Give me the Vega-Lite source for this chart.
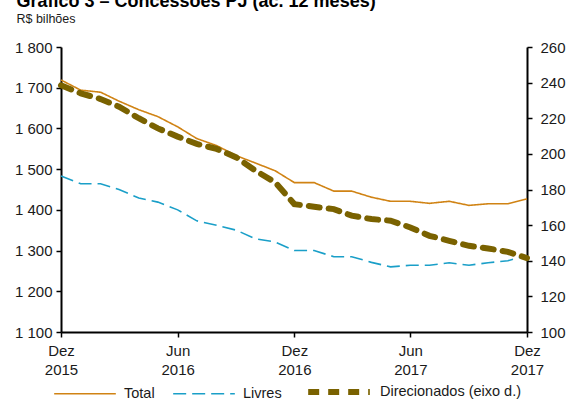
{
  "$schema": "https://vega.github.io/schema/vega-lite/v6.json",
  "width": 466,
  "height": 285,
  "autosize": {"type": "none"},
  "padding": {"left": 61, "top": 47, "right": 44, "bottom": 69},
  "background": "white",
  "config": {
    "font": "Liberation Sans",
    "view": {"stroke": null},
    "axis": {
      "grid": false,
      "domainColor": "#000000",
      "domainWidth": 2,
      "tickColor": "#000000",
      "tickWidth": 1.5,
      "tickSize": 5,
      "labelColor": "#1a1a1a",
      "labelFont": "Liberation Sans",
      "labelFontSize": 15,
      "title": null
    },
    "legend": {
      "title": null,
      "orient": "none",
      "legendX": -8,
      "legendY": 311,
      "direction": "horizontal",
      "symbolType": "stroke",
      "symbolSize": 3800,
      "labelFontSize": 14.5,
      "labelColor": "#1a1a1a",
      "labelFont": "Liberation Sans",
      "labelOffset": 7,
      "labelBaseline": "middle",
      "columnPadding": 14
    }
  },
  "title": {
    "text": "Gráfico 3 – Concessões PJ (ac. 12 meses)",
    "subtitle": "R$ bilhões",
    "anchor": "start",
    "frame": "bounds",
    "font": "Liberation Sans",
    "fontSize": 18,
    "fontWeight": "bold",
    "color": "#000000",
    "subtitleFont": "Liberation Sans",
    "subtitleFontSize": 12.5,
    "subtitleColor": "#1a1a1a",
    "subtitlePadding": 2,
    "offset": 15,
    "dx": 2
  },
  "data": {
    "values": [
      {"date": "2015-12-01T00:00:00", "serie": "Total", "v": 1719},
      {"date": "2016-01-01T00:00:00", "serie": "Total", "v": 1694},
      {"date": "2016-02-01T00:00:00", "serie": "Total", "v": 1689},
      {"date": "2016-03-01T00:00:00", "serie": "Total", "v": 1667},
      {"date": "2016-04-01T00:00:00", "serie": "Total", "v": 1646},
      {"date": "2016-05-01T00:00:00", "serie": "Total", "v": 1629},
      {"date": "2016-06-01T00:00:00", "serie": "Total", "v": 1604},
      {"date": "2016-07-01T00:00:00", "serie": "Total", "v": 1575},
      {"date": "2016-08-01T00:00:00", "serie": "Total", "v": 1558},
      {"date": "2016-09-01T00:00:00", "serie": "Total", "v": 1533},
      {"date": "2016-10-01T00:00:00", "serie": "Total", "v": 1515},
      {"date": "2016-11-01T00:00:00", "serie": "Total", "v": 1496},
      {"date": "2016-12-01T00:00:00", "serie": "Total", "v": 1467},
      {"date": "2017-01-01T00:00:00", "serie": "Total", "v": 1467},
      {"date": "2017-02-01T00:00:00", "serie": "Total", "v": 1446},
      {"date": "2017-03-01T00:00:00", "serie": "Total", "v": 1446},
      {"date": "2017-04-01T00:00:00", "serie": "Total", "v": 1431},
      {"date": "2017-05-01T00:00:00", "serie": "Total", "v": 1421},
      {"date": "2017-06-01T00:00:00", "serie": "Total", "v": 1421},
      {"date": "2017-07-01T00:00:00", "serie": "Total", "v": 1416},
      {"date": "2017-08-01T00:00:00", "serie": "Total", "v": 1421},
      {"date": "2017-09-01T00:00:00", "serie": "Total", "v": 1411},
      {"date": "2017-10-01T00:00:00", "serie": "Total", "v": 1415},
      {"date": "2017-11-01T00:00:00", "serie": "Total", "v": 1415},
      {"date": "2017-12-01T00:00:00", "serie": "Total", "v": 1427},
      {"date": "2015-12-01T00:00:00", "serie": "Livres", "v": 1483},
      {"date": "2016-01-01T00:00:00", "serie": "Livres", "v": 1464},
      {"date": "2016-02-01T00:00:00", "serie": "Livres", "v": 1464},
      {"date": "2016-03-01T00:00:00", "serie": "Livres", "v": 1450},
      {"date": "2016-04-01T00:00:00", "serie": "Livres", "v": 1429},
      {"date": "2016-05-01T00:00:00", "serie": "Livres", "v": 1419},
      {"date": "2016-06-01T00:00:00", "serie": "Livres", "v": 1400},
      {"date": "2016-07-01T00:00:00", "serie": "Livres", "v": 1373},
      {"date": "2016-08-01T00:00:00", "serie": "Livres", "v": 1362},
      {"date": "2016-09-01T00:00:00", "serie": "Livres", "v": 1350},
      {"date": "2016-10-01T00:00:00", "serie": "Livres", "v": 1329},
      {"date": "2016-11-01T00:00:00", "serie": "Livres", "v": 1321},
      {"date": "2016-12-01T00:00:00", "serie": "Livres", "v": 1300},
      {"date": "2017-01-01T00:00:00", "serie": "Livres", "v": 1300},
      {"date": "2017-02-01T00:00:00", "serie": "Livres", "v": 1285},
      {"date": "2017-03-01T00:00:00", "serie": "Livres", "v": 1285},
      {"date": "2017-04-01T00:00:00", "serie": "Livres", "v": 1271},
      {"date": "2017-05-01T00:00:00", "serie": "Livres", "v": 1260},
      {"date": "2017-06-01T00:00:00", "serie": "Livres", "v": 1264},
      {"date": "2017-07-01T00:00:00", "serie": "Livres", "v": 1264},
      {"date": "2017-08-01T00:00:00", "serie": "Livres", "v": 1270},
      {"date": "2017-09-01T00:00:00", "serie": "Livres", "v": 1264},
      {"date": "2017-10-01T00:00:00", "serie": "Livres", "v": 1270},
      {"date": "2017-11-01T00:00:00", "serie": "Livres", "v": 1275},
      {"date": "2017-12-01T00:00:00", "serie": "Livres", "v": 1288},
      {"date": "2015-12-01T00:00:00", "serie": "Direcionados (eixo d.)", "v": 238.5},
      {"date": "2016-01-01T00:00:00", "serie": "Direcionados (eixo d.)", "v": 234},
      {"date": "2016-02-01T00:00:00", "serie": "Direcionados (eixo d.)", "v": 230.8},
      {"date": "2016-03-01T00:00:00", "serie": "Direcionados (eixo d.)", "v": 226.5},
      {"date": "2016-04-01T00:00:00", "serie": "Direcionados (eixo d.)", "v": 220},
      {"date": "2016-05-01T00:00:00", "serie": "Direcionados (eixo d.)", "v": 214.3},
      {"date": "2016-06-01T00:00:00", "serie": "Direcionados (eixo d.)", "v": 209.7},
      {"date": "2016-07-01T00:00:00", "serie": "Direcionados (eixo d.)", "v": 205.6},
      {"date": "2016-08-01T00:00:00", "serie": "Direcionados (eixo d.)", "v": 202.8},
      {"date": "2016-09-01T00:00:00", "serie": "Direcionados (eixo d.)", "v": 198},
      {"date": "2016-10-01T00:00:00", "serie": "Direcionados (eixo d.)", "v": 190.6},
      {"date": "2016-11-01T00:00:00", "serie": "Direcionados (eixo d.)", "v": 184},
      {"date": "2016-12-01T00:00:00", "serie": "Direcionados (eixo d.)", "v": 171.8},
      {"date": "2017-01-01T00:00:00", "serie": "Direcionados (eixo d.)", "v": 170.3},
      {"date": "2017-02-01T00:00:00", "serie": "Direcionados (eixo d.)", "v": 169},
      {"date": "2017-03-01T00:00:00", "serie": "Direcionados (eixo d.)", "v": 165.3},
      {"date": "2017-04-01T00:00:00", "serie": "Direcionados (eixo d.)", "v": 163.4},
      {"date": "2017-05-01T00:00:00", "serie": "Direcionados (eixo d.)", "v": 162.5},
      {"date": "2017-06-01T00:00:00", "serie": "Direcionados (eixo d.)", "v": 158.7},
      {"date": "2017-07-01T00:00:00", "serie": "Direcionados (eixo d.)", "v": 154},
      {"date": "2017-08-01T00:00:00", "serie": "Direcionados (eixo d.)", "v": 151.2},
      {"date": "2017-09-01T00:00:00", "serie": "Direcionados (eixo d.)", "v": 148.4},
      {"date": "2017-10-01T00:00:00", "serie": "Direcionados (eixo d.)", "v": 146.9},
      {"date": "2017-11-01T00:00:00", "serie": "Direcionados (eixo d.)", "v": 145},
      {"date": "2017-12-01T00:00:00", "serie": "Direcionados (eixo d.)", "v": 141.5}
    ]
  },
  "encoding": {
    "x": {
      "field": "date",
      "type": "temporal",
      "scale": {"nice": false},
      "axis": {
        "values": [
          {"year": 2015, "month": 12, "date": 1},
          {"year": 2016, "month": 6, "date": 1},
          {"year": 2016, "month": 12, "date": 1},
          {"year": 2017, "month": 6, "date": 1},
          {"year": 2017, "month": 12, "date": 1}
        ],
        "labelExpr": "[month(datum.value) == 11 ? 'Dez' : 'Jun', '' + year(datum.value)]",
        "labelLineHeight": 19,
        "labelPadding": 6,
        "labelFlush": false,
        "labelOverlap": false
      }
    },
    "color": {
      "field": "serie",
      "type": "nominal",
      "scale": {
        "domain": ["Total", "Livres", "Direcionados (eixo d.)"],
        "range": ["#D08314", "#1A9FC8", "#7A6200"]
      }
    },
    "strokeDash": {
      "field": "serie",
      "type": "nominal",
      "scale": {
        "domain": ["Total", "Livres", "Direcionados (eixo d.)"],
        "range": [[1, 0], [13, 6], [11, 9]]
      }
    },
    "strokeWidth": {
      "field": "serie",
      "type": "nominal",
      "scale": {
        "type": "ordinal",
        "domain": ["Total", "Livres", "Direcionados (eixo d.)"],
        "range": [1.6, 1.6, 6]
      }
    }
  },
  "layer": [
    {
      "transform": [{"filter": "datum.serie != 'Direcionados (eixo d.)'"}],
      "mark": {"type": "line"},
      "encoding": {
        "y": {
          "field": "v",
          "type": "quantitative",
          "scale": {"domain": [1100, 1800], "nice": false, "zero": false},
          "axis": {
            "orient": "left",
            "values": [1100, 1200, 1300, 1400, 1500, 1600, 1700, 1800],
            "labelExpr": "replace(format(datum.value, ','), ',', ' ')",
            "labelPadding": 4
          }
        }
      }
    },
    {
      "transform": [{"filter": "datum.serie == 'Direcionados (eixo d.)'"}],
      "mark": {"type": "line", "strokeCap": "round"},
      "encoding": {
        "y": {
          "field": "v",
          "type": "quantitative",
          "scale": {"domain": [100, 260], "nice": false, "zero": false},
          "axis": {
            "orient": "right",
            "values": [100, 120, 140, 160, 180, 200, 220, 240, 260],
            "labelPadding": 8
          }
        }
      }
    }
  ],
  "resolve": {"scale": {"y": "independent"}}
}
